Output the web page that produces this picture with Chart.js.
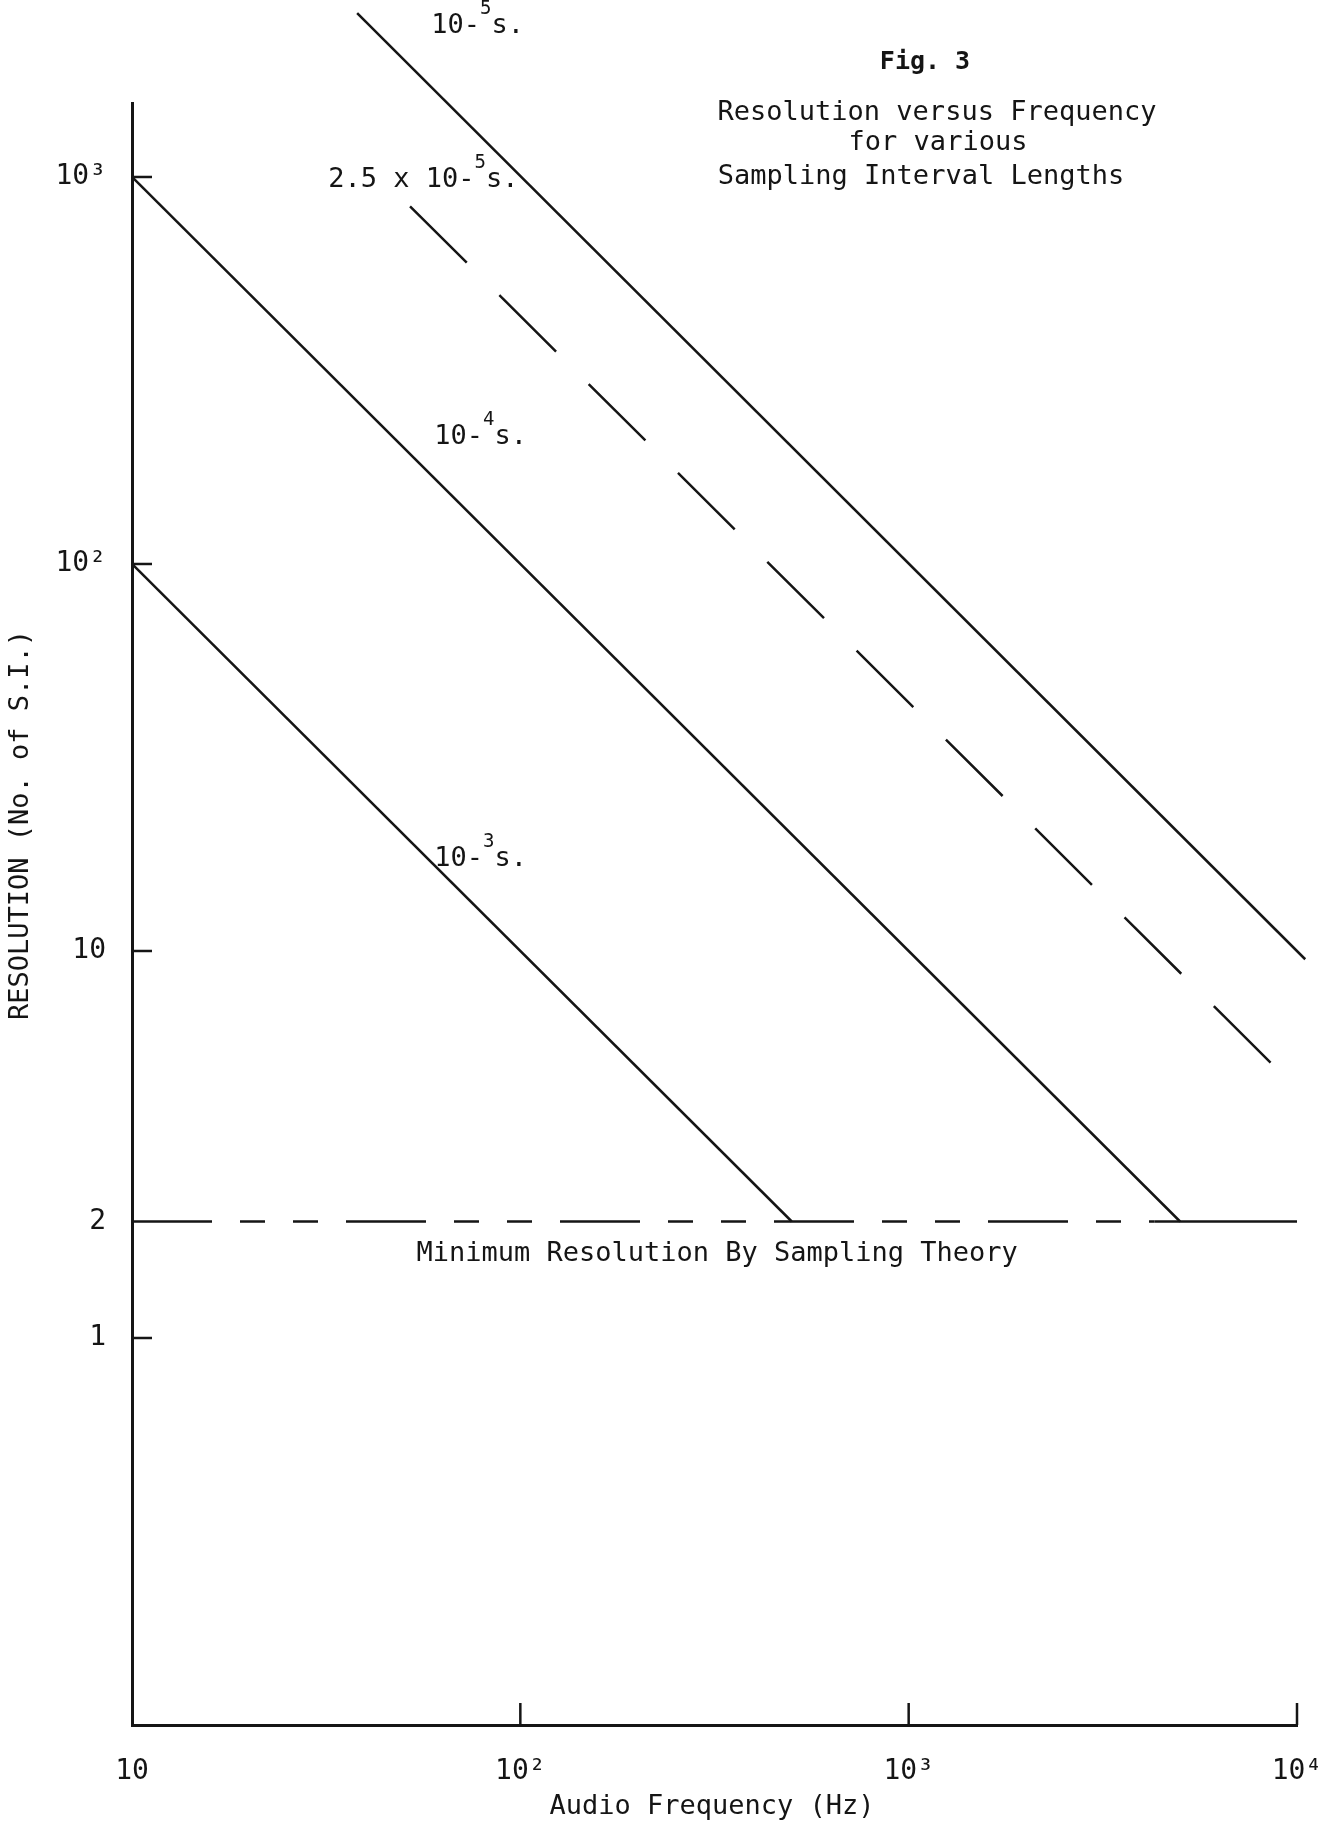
<!DOCTYPE html>
<html>
<head>
<meta charset="utf-8">
<script src="https://cdn.jsdelivr.net/npm/chart.js@4/dist/chart.umd.min.js"></script>
<style>
body { margin: 0; background: #fff; }
</style>
</head>
<body>
<canvas id="fig3" width="1322" height="1830"></canvas>
<script>
// end points of each line: audio frequency (Hz) -> resolution (no. of S.I.)
var freq_1e5 = [38, 10500];
var res_1e5 = [2650, 9.52];
var freq_25e6 = [52, 8800];
var res_25e6 = [840, 5];
var freq_1e4 = [10, 5000];
var res_1e4 = [1000, 2];
var freq_1e3 = [10, 500];
var res_1e3 = [100, 2];
var freq_min_dash = [10, 4300];
var freq_min_solid = [4300, 10000];
var res_min = [2, 2];

var xTicks = [10, 100, 1000, 10000];
var xTickLabels = ['10', '10²', '10³', '10⁴'];
var yTicks = [1, 2, 10, 100, 1000];
var yTickLabels = ['1', '2', '10', '10²', '10³'];

// line labels: [text, superscript, text], anchored in data space
var lblText = [['10-', '5', 's.'], ['2.5 x 10-', '5', 's.'], ['10-', '4', 's.'], ['10-', '3', 's.'], ['Minimum Resolution By Sampling Theory', '', '']];
var lblFreq = [59, 32, 60, 60, 54];
var lblRes = [2450, 980, 213, 17.3, 1.65];

var titleLines = ['Resolution versus Frequency', 'for various', 'Sampling Interval Lengths'];

var FONT = "'DejaVu Sans Mono', 'Liberation Mono', monospace";
var INK = '#151515';

function pts(xs, ys) {
    return xs.map(function (x, i) { return { x: x, y: ys[i] }; });
}

function lineSet(xs, ys, dash) {
    return {
        data: pts(xs, ys),
        showLine: true,
        borderColor: INK,
        borderWidth: 2.5,
        borderDash: dash || [],
        pointRadius: 0,
        clip: false
    };
}

// inward tick marks + all the typed annotations
var extras = {
    id: 'extras',
    afterDatasetsDraw: function (chart) {
        var ctx = chart.ctx, xs = chart.scales.x, ys = chart.scales.y, a = chart.chartArea;
        ctx.save();
        ctx.strokeStyle = INK;
        ctx.lineWidth = 2.5;
        yTicks.forEach(function (v) {
            if (v === 2) return;
            var y = ys.getPixelForValue(v);
            ctx.beginPath(); ctx.moveTo(a.left, y); ctx.lineTo(a.left + 20, y); ctx.stroke();
        });
        xTicks.forEach(function (v) {
            if (v === 10) return;
            var x = xs.getPixelForValue(v);
            ctx.beginPath(); ctx.moveTo(x, a.bottom); ctx.lineTo(x, a.bottom - 22); ctx.stroke();
        });

        ctx.fillStyle = INK;
        ctx.textBaseline = 'middle';
        ctx.textAlign = 'left';
        lblText.forEach(function (p, i) {
            var x = xs.getPixelForValue(lblFreq[i]);
            var y = ys.getPixelForValue(lblRes[i]);
            ctx.font = '27px ' + FONT;
            ctx.fillText(p[0], x, y);
            x += ctx.measureText(p[0]).width;
            if (p[1]) {
                ctx.font = '19px ' + FONT;
                ctx.fillText(p[1], x, y - 17);
                x += ctx.measureText(p[1]).width;
            }
            ctx.font = '27px ' + FONT;
            ctx.fillText(p[2], x, y);
        });

        // figure title block
        ctx.textAlign = 'center';
        ctx.font = 'bold 25px ' + FONT;
        ctx.fillText('Fig. 3', 925, 62);
        ctx.font = '27px ' + FONT;
        ctx.fillText(titleLines[0], 937, 113);
        ctx.fillText(titleLines[1], 938, 143);
        ctx.fillText(titleLines[2], 921, 177);

        // axis titles
        ctx.fillText('Audio Frequency (Hz)', 712, 1807);
        ctx.translate(21, 825);
        ctx.rotate(-Math.PI / 2);
        ctx.fillText('RESOLUTION (No. of S.I.)', 0, 0);
        ctx.restore();
    }
};

var ctx = document.getElementById('fig3').getContext('2d');
var chart = new Chart(ctx, {
    type: 'scatter',
    data: {
        datasets: [
            lineSet(freq_1e5, res_1e5),
            lineSet(freq_25e6, res_25e6, [80, 46]),
            lineSet(freq_1e4, res_1e4),
            lineSet(freq_1e3, res_1e3),
            lineSet(freq_min_dash, res_min, [80, 28, 25, 28, 25, 28]),
            lineSet(freq_min_solid, res_min)
        ]
    },
    options: {
        responsive: false,
        animation: false,
        layout: { padding: { top: 103, right: 25, left: 0, bottom: 0 } },
        plugins: { legend: { display: false }, tooltip: { enabled: false } },
        scales: {
            x: {
                type: 'logarithmic',
                min: 10,
                max: 10000,
                grid: { display: false, drawTicks: false },
                border: { display: true, color: INK, width: 3 },
                afterBuildTicks: function (s) { s.ticks = xTicks.map(function (v) { return { value: v }; }); },
                afterFit: function (s) { s.height = 105; s.paddingLeft = 0; s.paddingRight = 0; },
                ticks: {
                    autoSkip: false,
                    maxRotation: 0,
                    padding: 30,
                    color: INK,
                    font: { family: FONT, size: 28 },
                    callback: function (v, i) { return xTickLabels[i]; }
                }
            },
            y: {
                type: 'logarithmic',
                min: 0.1,
                max: 1553,
                grid: { display: false, drawTicks: false },
                border: { display: true, color: INK, width: 3 },
                afterBuildTicks: function (s) { s.ticks = yTicks.map(function (v) { return { value: v }; }); },
                afterFit: function (s) { s.width = 132; s.paddingTop = 0; s.paddingBottom = 0; },
                ticks: {
                    autoSkip: false,
                    padding: 26,
                    color: INK,
                    font: { family: FONT, size: 28 },
                    callback: function (v, i) { return yTickLabels[i]; }
                }
            }
        }
    },
    plugins: [extras]
});
</script>
</body>
</html>
